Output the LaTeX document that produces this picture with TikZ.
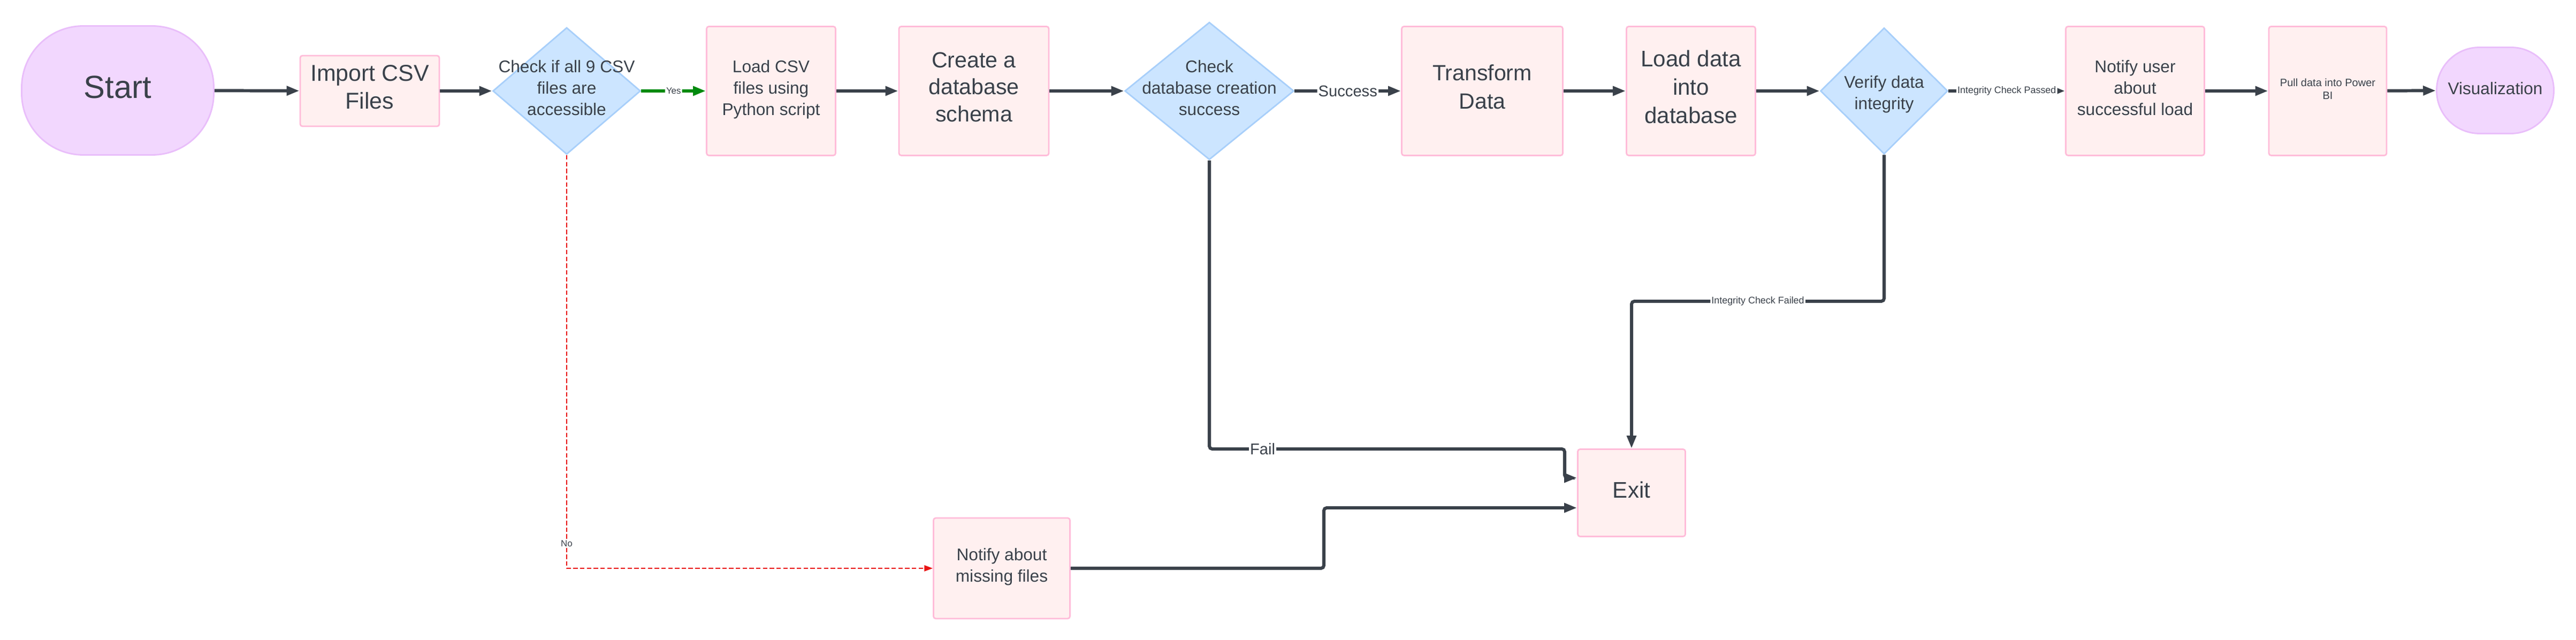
\documentclass[tikz,border=0pt]{standalone}
\usepackage{fontspec}
\setmainfont{Liberation Sans}
\usetikzlibrary{shapes.geometric,arrows.meta,calc}

\definecolor{ink}{HTML}{3A414A}
\definecolor{boxfill}{HTML}{FFF0F0}
\definecolor{boxline}{HTML}{FFBCD9}
\definecolor{termfill}{HTML}{F2D7FE}
\definecolor{termline}{HTML}{E9BEFA}
\definecolor{decfill}{HTML}{CCE5FF}
\definecolor{decline}{HTML}{A8CFFA}
\definecolor{yesgreen}{HTML}{008A0E}
\definecolor{nored}{HTML}{E81313}

\begin{document}
\begin{tikzpicture}[
    struts/.style={execute at begin node=\strut, execute at end node=\strut},
    box/.style={draw=boxline, fill=boxfill, line width=0.8pt, rounded corners=1.2pt, align=center, text=ink, inner sep=0pt, struts},
    terminal/.style={draw=termline, fill=termfill, line width=0.8pt, align=center, text=ink, inner sep=0pt, struts},
    decision/.style={diamond, draw=decline, fill=decfill, line width=0.8pt, inner sep=0pt},
    dtext/.style={align=center, text=ink, font=\fontsize{9}{11.4}\selectfont, struts},
    elabel/.style={fill=white, inner sep=0.6pt, text=ink},
    flow/.style={draw=ink, line width=1.7pt, rounded corners=1.5pt, -{Triangle[length=6.8pt,width=4.8pt]}},
    nopath/.style={draw=nored, line width=0.6pt, dash pattern=on 2.4pt off 1.2pt, -{Triangle[length=4.5pt,width=3.2pt]}}]
    \useasboundingbox (0,0) rectangle (48.14,-11.96);

    \node[terminal, minimum width=3.59cm, minimum height=2.41cm, rounded corners=1.15cm, font=\fontsize{17}{20}\selectfont] (start) at (2.20,-1.69) {Start};
    \node[box, minimum width=2.60cm, minimum height=1.32cm, font=\fontsize{12.2}{14.8}\selectfont] (import) at (6.91,-1.70) {Import CSV\\Files};
    \node[decision, minimum width=2.76cm, minimum height=2.37cm, label={[dtext]center:{Check if all 9 CSV\\files are\\accessible}}] (chk) at (10.59,-1.70) {};
    \node[box, minimum width=2.41cm, minimum height=2.41cm, font=\fontsize{9}{11.4}\selectfont] (loadcsv) at (14.41,-1.70) {Load CSV\\files using\\Python script};
    \node[box, minimum width=2.80cm, minimum height=2.41cm, font=\fontsize{11.7}{14.4}\selectfont] (schema) at (18.20,-1.70) {Create a\\database\\schema};
    \node[decision, minimum width=3.16cm, minimum height=2.57cm, label={[dtext]center:{Check\\database creation\\success}}] (chkdb) at (22.60,-1.70) {};
    \node[box, minimum width=3.01cm, minimum height=2.41cm, font=\fontsize{11.7}{15}\selectfont] (transform) at (27.70,-1.70) {Transform\\Data};
    \node[box, minimum width=2.41cm, minimum height=2.41cm, font=\fontsize{12}{15}\selectfont] (loaddb) at (31.60,-1.70) {Load data\\into\\database};
    \node[decision, minimum width=2.38cm, minimum height=2.36cm, label={[dtext, yshift=-0.09cm]center:{Verify data\\integrity}}] (verify) at (35.21,-1.70) {};
    \node[box, minimum width=2.59cm, minimum height=2.41cm, font=\fontsize{9}{11.4}\selectfont] (notify) at (39.90,-1.70) {Notify user\\about\\successful load};
    \node[box, minimum width=2.20cm, minimum height=2.41cm, font=\fontsize{5.7}{6.8}\selectfont] (powerbi) at (43.50,-1.70) {Pull data into Power\\BI};
    \node[terminal, minimum width=2.19cm, minimum height=1.61cm, rounded corners=0.8cm, font=\fontsize{9}{11}\selectfont] (vis) at (46.63,-1.69) {Visualization};
    \node[box, minimum width=2.01cm, minimum height=1.63cm, font=\fontsize{12}{14}\selectfont] (exitbox) at (30.49,-9.21) {Exit};
    \node[box, minimum width=2.55cm, minimum height=1.88cm, font=\fontsize{9}{11.4}\selectfont] (missing) at (18.72,-10.62) {Notify about\\missing files};

    \coordinate (failbend) at (29.24,-8.39);
    \coordinate (icfbend) at (30.49,-5.63);
    \coordinate (missbend) at (24.74,-9.49);

    \draw[flow] (start) -- (import);
    \draw[flow] (import) -- (chk);
    \draw[flow, draw=yesgreen] (chk) -- node[elabel, font=\fontsize{4.8}{5.5}\selectfont] {Yes} (loadcsv);
    \draw[flow] (loadcsv) -- (schema);
    \draw[flow] (schema) -- (chkdb);
    \draw[flow] (chkdb) -- node[elabel, font=\fontsize{8.3}{10}\selectfont] {Success} (transform);
    \draw[flow] (transform) -- (loaddb);
    \draw[flow] (loaddb) -- (verify);
    \draw[flow] (verify) -- node[elabel, font=\fontsize{5.1}{6}\selectfont] {Integrity Check Passed} (notify);
    \draw[flow] (notify) -- (powerbi);
    \draw[flow] (powerbi) -- (vis);
    \draw[nopath] (chk.south) |- node[elabel, pos=0.47, font=\fontsize{4.8}{5.5}\selectfont] {No} (missing);
    \draw[flow] (chkdb.south) |- node[elabel, pos=0.575, font=\fontsize{8.3}{10}\selectfont] {Fail} (failbend) |- ($(exitbox.west)+(0,0.28)$);
    \draw[flow] (verify.south) |- node[elabel, pos=0.75, font=\fontsize{5.1}{6}\selectfont] {Integrity Check Failed} (icfbend) -- (exitbox);
    \draw[flow] (missing) -| (missbend) -- ($(exitbox.west)+(0,-0.28)$);
\end{tikzpicture}
\end{document}
